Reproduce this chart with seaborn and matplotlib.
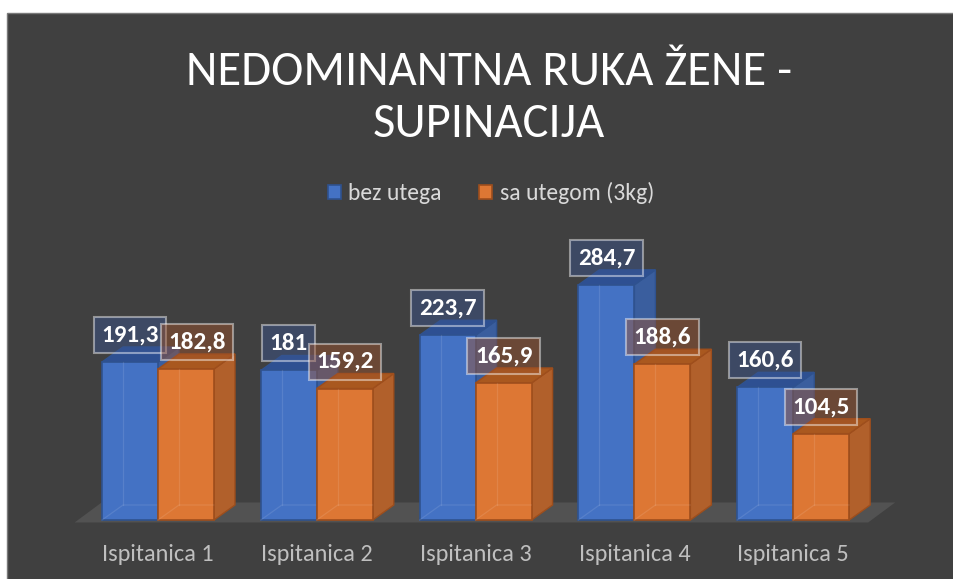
import matplotlib
matplotlib.use("Agg")
import matplotlib.pyplot as plt
from matplotlib import font_manager
from matplotlib.patches import Polygon, Rectangle, Patch
import seaborn as sns
import pandas as pd

categories = ['Ispitanica 1', 'Ispitanica 2', 'Ispitanica 3', 'Ispitanica 4', 'Ispitanica 5']
bez_utega = [191.3, 181, 223.7, 284.7, 160.6]
sa_utegom = [182.8, 159.2, 165.9, 188.6, 104.5]
series = ['bez utega', 'sa utegom (3kg)']
title = 'NEDOMINANTNA RUKA ŽENE -\nSUPINACIJA'

front = ['#4472C4', '#DD7734']
edge = ['#2F528F', '#9E4E1C']
side = ['#3A5E9E', '#B1602B']
top = ['#2E5092', '#A9581F']
label_fill = ['#3b5590', '#a0522a']

names = {f.name for f in font_manager.fontManager.ttflist}
font = 'Carlito' if 'Carlito' in names else 'Open Sans'

df = pd.DataFrame({
    'cat': categories * 2,
    'val': bez_utega + sa_utegom,
    'ser': [series[0]] * 5 + [series[1]] * 5,
})

W, H = 954, 579
fig = plt.figure(figsize=(W / 100, H / 100), dpi=100)
fig.patch.set_facecolor('white')
# dark panel
fig.patches.append(Rectangle((7 / W, -0.01), 1.01 - 7 / W, 1.01 - 13 / H, transform=fig.transFigure,
                             facecolor='#404040', edgecolor='#7a7a7a', lw=1, zorder=-5))

ax = fig.add_axes([78.6 / W, 59 / H, 794 / W, 247.8 / H])
ax.set_facecolor('none')
sns.barplot(data=df, x='cat', y='val', hue='ser', palette=front, width=0.705,
            ax=ax, legend=False, saturation=1)
ax.set_xlim(-0.5, 4.5)
ax.set_ylim(0, 300)

# depth offset (pixels -> data units)
inv = ax.transData.inverted()
x0d, y0d = inv.transform(ax.transData.transform((0, 0)))
ddx, ddy = inv.transform(ax.transData.transform((0, 0)) + [21, 15])
dx, dy = ddx - x0d, ddy - y0d
fdx, fdy = dx * 27 / 21, dy * 20 / 15

# floor
ax.add_patch(Polygon([(-0.525, -3), (4.472, -3), (4.472 + fdx, -3 + fdy),
                      (-0.525 + fdx, -3 + fdy)], closed=True,
                     facecolor='#525252', edgecolor='none', zorder=1, clip_on=False))

bars = []
for k, cont in enumerate(ax.containers):
    for b in cont.patches:
        bars.append((b.get_x(), k, b))
bars.sort(key=lambda t: t[0])

for rank, (_, k, b) in enumerate(bars):
    x0, w, h = b.get_x(), b.get_width(), b.get_height()
    x1 = x0 + w
    z = 3 + rank * 3
    b.set_zorder(z + 2)
    b.set_edgecolor(edge[k])
    b.set_linewidth(1.2)
    b.set_clip_on(False)
    ax.add_patch(Polygon([(x1, 0), (x1 + dx, dy), (x1 + dx, h + dy), (x1, h)], closed=True,
                         facecolor=side[k], edgecolor=edge[k], lw=1.0, zorder=z, clip_on=False))
    ax.add_patch(Polygon([(x0, h), (x1, h), (x1 + dx, h + dy), (x0 + dx, h + dy)], closed=True,
                         facecolor=top[k], edgecolor=edge[k], lw=1.0, zorder=z + 1, clip_on=False))
    # faint hidden edges seen through the front face
    ax.plot([x0, x0 + dx, x1 - 0.001], [0, dy, dy], color='white', alpha=0.1, lw=0.9,
            zorder=z + 2.5, clip_on=False)
    ax.plot([x0 + dx, x0 + dx], [dy, h], color='white', alpha=0.1, lw=0.9,
            zorder=z + 2.5, clip_on=False)
    # nudge the second label aside when both labels of a group sit at the same height
    i = rank // 2
    nudge = 11 if (k == 1 and abs(bez_utega[i] - sa_utegom[i]) < 15) else 0
    label = f"{h:g}".replace('.', ',')
    ax.annotate(label, (x0 + w / 2, h), xytext=(nudge, 27), textcoords='offset pixels',
                ha='center', va='center', color='white', fontsize=18, fontweight='bold',
                family=font, zorder=200, annotation_clip=False,
                bbox=dict(boxstyle='square,pad=0.3', facecolor=label_fill[k], alpha=0.45,
                          edgecolor=(1, 1, 1, 0.6), lw=1.5))

for s in ax.spines.values():
    s.set_visible(False)
ax.set_yticks([])
ax.set_xlabel('')
ax.set_ylabel('')
ax.tick_params(axis='x', length=0, pad=17, labelcolor='#bfbfbf', labelsize=17.5)
for t in ax.get_xticklabels():
    t.set_family(font)

handles = [Patch(facecolor=front[i], edgecolor=edge[i], lw=1.2, label=series[i]) for i in range(2)]
fig.legend(handles=handles, loc='center', bbox_to_anchor=(491 / W, 1 - 193 / H), ncol=2,
           frameon=False, handlelength=0.55, handleheight=0.55, handletextpad=0.3,
           columnspacing=1.6, prop={'family': font, 'size': 17}, labelcolor='#d9d9d9')

fig.text(489 / W, 1 - 98 / H, title, ha='center', va='center', color='white',
         fontsize=35, family=font, linespacing=1.27)

fig.savefig('out.png', dpi=100, facecolor=fig.get_facecolor())
